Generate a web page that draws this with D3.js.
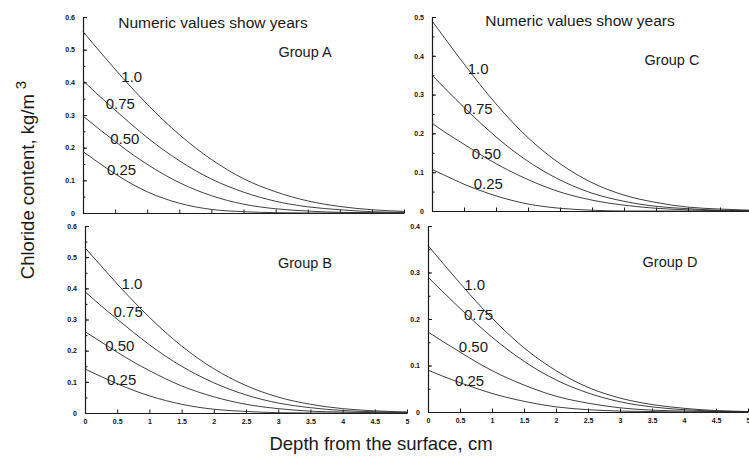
<!DOCTYPE html>
<html><head><meta charset="utf-8">
<script src="https://cdn.jsdelivr.net/npm/d3@7"></script>
<style>
body{margin:0;background:#fff;}
svg{display:block;font-family:Arial,"Liberation Sans",Helvetica,sans-serif;}
</style></head>
<body><svg id="c" width="749" height="456"></svg>
<script>
// ---- data ----
const years = ["0.25", "0.50", "0.75", "1.0"];
const depth = [0, 0.25, 0.5, 0.75, 1, 1.5, 2, 2.5, 3, 3.5, 4, 4.5, 5];
const groupNames = ["Group A", "Group B", "Group C", "Group D"];
const yMaxByGroup = [0.6, 0.6, 0.5, 0.4];
const xTickValues = [0, 0.5, 1, 1.5, 2, 2.5, 3, 3.5, 4, 4.5, 5];
const xTickLabels = ["0", "0.5", "1", "1.5", "2", "2.5", "3", "3.5", "4", "4.5", "5"];
const noteText = "Numeric values show years";

// chloride content (kg/m3) for years 0.25, 0.50, 0.75, 1.0
const groupA = [
  [0.188,0.153,0.120,0.090,0.065,0.030,0.011,0.004,0.001,0,0,0,0],
  [0.297,0.257,0.219,0.182,0.149,0.093,0.053,0.027,0.013,0.006,0.002,0.001,0],
  [0.405,0.359,0.315,0.272,0.231,0.160,0.104,0.064,0.036,0.019,0.010,0.004,0.002],
  [0.555,0.497,0.440,0.385,0.333,0.240,0.164,0.105,0.065,0.037,0.020,0.010,0.005]
];
const groupB = [
  [0.141,0.117,0.094,0.073,0.055,0.028,0.012,0.005,0.001,0,0,0,0],
  [0.261,0.228,0.195,0.164,0.136,0.087,0.052,0.028,0.014,0.006,0.003,0.001,0],
  [0.389,0.344,0.301,0.259,0.219,0.150,0.097,0.058,0.032,0.017,0.008,0.004,0.002],
  [0.530,0.472,0.414,0.359,0.307,0.215,0.142,0.088,0.051,0.028,0.014,0.007,0.003]
];
const groupC = [
  [0.107,0.088,0.069,0.053,0.039,0.018,0.007,0.002,0,0,0,0,0],
  [0.226,0.198,0.172,0.146,0.122,0.081,0.049,0.028,0.015,0.007,0.003,0.001,0],
  [0.350,0.308,0.267,0.228,0.191,0.128,0.080,0.046,0.025,0.012,0.006,0.002,0.001],
  [0.490,0.434,0.379,0.326,0.276,0.189,0.122,0.073,0.041,0.022,0.010,0.005,0.002]
];
const groupD = [
  [0.090,0.076,0.063,0.051,0.040,0.023,0.011,0.005,0.002,0.001,0,0,0],
  [0.172,0.150,0.129,0.108,0.089,0.058,0.034,0.019,0.009,0.004,0.002,0.001,0],
  [0.290,0.256,0.223,0.191,0.161,0.109,0.069,0.041,0.022,0.011,0.005,0.002,0.001],
  [0.358,0.317,0.277,0.238,0.202,0.138,0.089,0.053,0.030,0.016,0.008,0.003,0.001]
];
// curve label anchors (depth, content) per group, order as years
const labelDepthA = [0.60, 0.65, 0.58, 0.76], labelValA = [0.132, 0.229, 0.334, 0.419];
const labelDepthB = [0.57, 0.54, 0.67, 0.73], labelValB = [0.106, 0.218, 0.325, 0.416];
const labelDepthC = [0.88, 0.85, 0.72, 0.72], labelValC = [0.071, 0.149, 0.265, 0.368];
const labelDepthD = [0.65, 0.71, 0.79, 0.73], labelValD = [0.067, 0.140, 0.209, 0.275];

// ---- layout ----
const panels = [
  {name: groupNames[0], data: groupA, ymax: yMaxByGroup[0], x0: 83, x1: 404, yb: 213, yt: 17, xl: false,
   ld: labelDepthA, lv: labelValA, gx: 305, gy: 52, note: [213, 22]},
  {name: groupNames[1], data: groupB, ymax: yMaxByGroup[1], x0: 85, x1: 407, yb: 413, yt: 226, xl: true,
   ld: labelDepthB, lv: labelValB, gx: 305, gy: 263, note: null},
  {name: groupNames[2], data: groupC, ymax: yMaxByGroup[2], x0: 432, x1: 752, yb: 211, yt: 17, xl: false,
   ld: labelDepthC, lv: labelValC, gx: 672, gy: 60, note: [580, 20]},
  {name: groupNames[3], data: groupD, ymax: yMaxByGroup[3], x0: 428, x1: 748, yb: 412, yt: 226, xl: true,
   ld: labelDepthD, lv: labelValD, gx: 670, gy: 262, note: null}
];

const svg = d3.select("#c");
const ink = "#1a1a1a";

panels.forEach(p => {
  const x = d3.scaleLinear().domain([0, 5]).range([p.x0, p.x1]);
  const y = d3.scaleLinear().domain([0, p.ymax]).range([p.yb, p.yt]);
  const g = svg.append("g");

  // minor y ticks
  const minor = d3.range(0, p.ymax + 1e-9, 0.05).map(v => +v.toFixed(2));
  g.append("g").attr("transform", `translate(${p.x0},0)`)
    .call(d3.axisLeft(y).tickValues(minor).tickSizeInner(-2.5).tickSizeOuter(0).tickFormat(""))
    .call(a => a.select(".domain").remove())
    .call(a => a.selectAll("line").attr("stroke", ink));

  // major y axis
  const major = d3.range(0, p.ymax + 1e-9, 0.1).map(v => +v.toFixed(1));
  g.append("g").attr("transform", `translate(${p.x0},0)`)
    .call(d3.axisLeft(y).tickValues(major).tickSizeInner(-4).tickSizeOuter(0).tickPadding(8)
      .tickFormat(d => d === 0 ? "0" : d3.format(".1f")(d)))
    .call(a => a.select(".domain").attr("stroke", ink).attr("stroke-width", 1.2))
    .call(a => a.selectAll("line").attr("stroke", ink))
    .call(a => a.selectAll("text").attr("font-size", 7).attr("font-weight", "bold").attr("fill", "#111")
      .attr("font-family", "Arial, 'Liberation Sans', sans-serif"));

  // x axis
  g.append("g").attr("transform", `translate(0,${p.yb})`)
    .call(d3.axisBottom(x).tickValues(xTickValues).tickSizeInner(-3.5).tickSizeOuter(0).tickPadding(6)
      .tickFormat((d, i) => p.xl ? xTickLabels[i] : ""))
    .call(a => a.select(".domain").attr("stroke", ink).attr("stroke-width", 1.2))
    .call(a => a.selectAll("line").attr("stroke", ink))
    .call(a => a.selectAll("text").attr("font-size", 7).attr("font-weight", "bold").attr("fill", "#111")
      .attr("font-family", "Arial, 'Liberation Sans', sans-serif"));

  // curves
  const line = d3.line().x((d, i) => x(depth[i])).y(d => y(d)).curve(d3.curveMonotoneX);
  p.data.forEach(series => {
    g.append("path").attr("d", line(series)).attr("fill", "none")
      .attr("stroke", "#2a2a2a").attr("stroke-width", 0.9);
  });

  // curve labels
  years.forEach((yr, i) => {
    g.append("text").attr("x", x(p.ld[i])).attr("y", y(p.lv[i]))
      .attr("text-anchor", "middle").attr("dominant-baseline", "central")
      .attr("font-size", 15).attr("fill", ink).text(yr);
  });

  // group name
  g.append("text").attr("x", p.gx).attr("y", p.gy).attr("text-anchor", "middle")
    .attr("dominant-baseline", "central").attr("font-size", 14.5).attr("fill", ink).text(p.name);

  if (p.note) {
    g.append("text").attr("x", p.note[0]).attr("y", p.note[1]).attr("text-anchor", "middle")
      .attr("dominant-baseline", "central").attr("font-size", 15.5).attr("fill", ink).text(noteText);
  }
});

// axis titles
svg.append("text").attr("x", 381).attr("y", 443).attr("text-anchor", "middle")
  .attr("dominant-baseline", "central").attr("font-size", 18.5).attr("fill", ink)
  .text("Depth from the surface, cm");

const yt = svg.append("text").attr("transform", "translate(27,180) rotate(-90)")
  .attr("text-anchor", "middle").attr("dominant-baseline", "central")
  .attr("font-size", 18.5).attr("fill", ink);
yt.append("tspan").text("Chloride content, kg/m");
yt.append("tspan").attr("dx", 5).attr("dy", -7).attr("font-size", 15).text("3");
</script>
</body></html>
